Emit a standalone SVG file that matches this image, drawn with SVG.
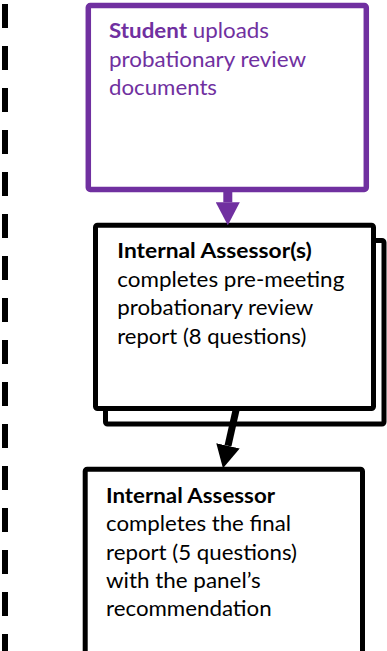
<svg xmlns="http://www.w3.org/2000/svg" width="387" height="651" viewBox="0 0 387 651">
<style>
.t{font-family:Lato,"Open Sans","Liberation Sans",sans-serif;font-size:21.5px;fill:#000}
.p{fill:#7030A0}
.b{font-weight:bold}
.box{fill:#fff;stroke:#000;stroke-width:5}
.pbox{fill:#fff;stroke:#7030A0;stroke-width:5.5}
</style>
<defs>
<marker id="hp" markerUnits="userSpaceOnUse" markerWidth="23" markerHeight="24" refX="0" refY="12" orient="auto" viewBox="0 0 23 24">
<path d="M0,0 L23,12 L0,24 z" fill="#7030A0"/>
</marker>
<marker id="hk" markerUnits="userSpaceOnUse" markerWidth="23" markerHeight="24" refX="0" refY="12" orient="auto" viewBox="0 0 23 24">
<path d="M0,0 L23,12 L0,24 z" fill="#000"/>
</marker>
</defs>
<rect width="387" height="651" fill="#fff"/>
<g id="divider">
<line x1="5" y1="4" x2="5" y2="660" stroke="#000" stroke-width="6" stroke-dasharray="24 18"/>
</g>
<g id="student">
<rect class="pbox" x="88.3" y="5.5" width="278" height="184" rx="2"/>
<text class="t p" x="109" y="37.5" textLength="160" lengthAdjust="spacingAndGlyphs"><tspan class="b">Student</tspan> uploads</text>
<text class="t p" x="109" y="66.5" textLength="197" lengthAdjust="spacingAndGlyphs">probationary review</text>
<text class="t p" x="109" y="95.2" textLength="108" lengthAdjust="spacingAndGlyphs">documents</text>
</g>
<g id="internal-assessors">
<rect class="box" x="105.5" y="240.5" width="278.5" height="183.5" rx="2"/>
<rect class="box" x="95.5" y="225.3" width="278" height="183.2" rx="2"/>
<text class="t" x="117.3" y="258.4" textLength="194.5" lengthAdjust="spacingAndGlyphs"><tspan class="b">Internal Assessor(s)</tspan></text>
<text class="t" x="117.3" y="286.8" textLength="227" lengthAdjust="spacingAndGlyphs">completes pre-meeting</text>
<text class="t" x="117.3" y="315.2" textLength="196" lengthAdjust="spacingAndGlyphs">probationary review</text>
<text class="t" x="117.3" y="343.5" textLength="189" lengthAdjust="spacingAndGlyphs">report (8 questions)</text>
</g>
<g id="internal-assessor">
<rect class="box" x="85.2" y="469.2" width="277.3" height="220" rx="2"/>
<text class="t" x="106" y="502.7" textLength="169" lengthAdjust="spacingAndGlyphs"><tspan class="b">Internal Assessor</tspan></text>
<text class="t" x="106" y="531.2" textLength="185" lengthAdjust="spacingAndGlyphs">completes the final</text>
<text class="t" x="106" y="559.5" textLength="191" lengthAdjust="spacingAndGlyphs">report (5 questions)</text>
<text class="t" x="106" y="587.8" textLength="154.7" lengthAdjust="spacingAndGlyphs">with the panel’s</text>
<text class="t" x="106" y="616.2" textLength="165.7" lengthAdjust="spacingAndGlyphs">recommendation</text>
</g>
<g id="connectors">
<line x1="227.8" y1="190" x2="227.8" y2="202.3" stroke="#7030A0" stroke-width="9" marker-end="url(#hp)"/>
<line x1="236.5" y1="408" x2="228" y2="445.8" stroke="#000" stroke-width="7" marker-end="url(#hk)"/>
</g>
</svg>
